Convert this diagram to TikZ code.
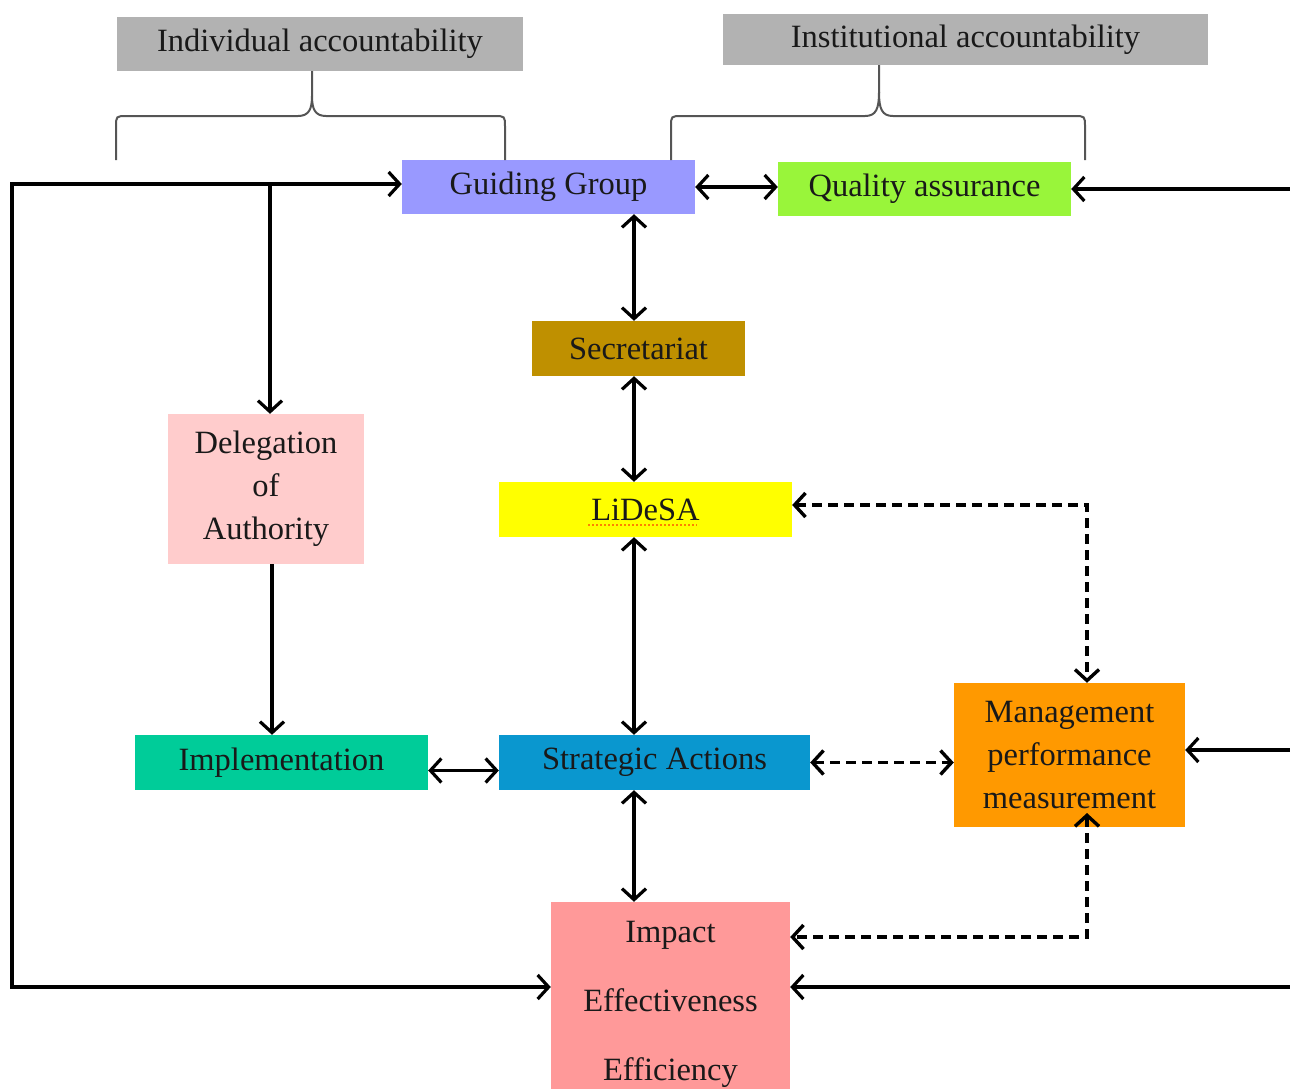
\documentclass[tikz,border=0pt]{standalone}
\usepackage{fontspec}
\setmainfont{Liberation Serif}
\usetikzlibrary{arrows.meta}
\definecolor{cgray}{HTML}{B2B2B2}
\definecolor{cgg}{HTML}{9999FF}
\definecolor{cqa}{HTML}{99F53A}
\definecolor{csec}{HTML}{BF9000}
\definecolor{clid}{HTML}{FFFF00}
\definecolor{cdel}{HTML}{FFCCCC}
\definecolor{cimp}{HTML}{00CC99}
\definecolor{csa}{HTML}{0A97CF}
\definecolor{cmpm}{HTML}{FF9900}
\definecolor{cimpact}{HTML}{FF9999}
\definecolor{cbrace}{HTML}{555555}
\tikzset{
  box/.style={inner sep=0pt, align=center, font=\fontsize{32.5}{43}\selectfont, text=black!90},
  conn/.style={line width=3.2pt, {Straight Barb[length=11pt,width=24pt]}-{Straight Barb[length=11pt,width=24pt]}},
  oneway/.style={line width=3.2pt, -{Straight Barb[length=11pt,width=24pt]}},
  dconn/.style={line width=3.4pt, dash pattern=on 10pt off 6pt, {Straight Barb[length=11pt,width=24pt]}-{Straight Barb[length=11pt,width=24pt]}},
  bracestyle/.style={draw=cbrace, line width=2pt}
}
\begin{document}
\begin{tikzpicture}[x=1pt,y=-1pt]
\useasboundingbox (0,0) rectangle (1290,1088);
\clip (0,0) rectangle (1290,1088);
% boxes
\node[box, fill=cgray, minimum width=406pt, minimum height=54pt] (indiv) at (320,44) {Individual accountability};
\node[box, fill=cgray, minimum width=485pt, minimum height=51pt] (inst) at (965.5,39.5) {Institutional accountability};
\node[box, fill=cgg, minimum width=293pt, minimum height=54pt] (gg) at (548.5,187) {Guiding Group};
\node[box, fill=cqa, minimum width=293pt, minimum height=54pt] (qa) at (924.5,189) {Quality assurance};
\node[box, fill=csec, minimum width=213pt, minimum height=55pt] (sec) at (638.5,348.5) {Secretariat};
\node[box, fill=clid, minimum width=293pt, minimum height=55pt] (lid) at (645.5,509.5) {LiDeSA};
\node[box, fill=cdel, minimum width=196pt, minimum height=150pt] (del) at (266,489) {Delegation\\of\\Authority};
\node[box, fill=cimp, minimum width=293pt, minimum height=55pt] (imp) at (281.5,762.5) {Implementation};
\node[box, fill=csa, minimum width=311pt, minimum height=55pt] (sa) at (654.5,762.5) {Strategic Actions};
\node[box, fill=cmpm, minimum width=231pt, minimum height=144pt] (mpm) at (1069.5,755) {Management\\performance\\measurement};
\node[box, fill=cimpact, minimum width=239pt, minimum height=204pt, font=\fontsize{32.5}{69}\selectfont] (impact) at (670.5,1004) {Impact\\Effectiveness\\Efficiency};
% spell-check mark under LiDeSA
\draw[orange, line width=1.8pt, dash pattern=on 2pt off 2pt] (588,525) -- (697,525);
% braces
\draw[bracestyle] (116,160) -- (116,127) .. controls (116,116) .. (127,116) -- (298,116)
  .. controls (309,116) and (312,109) .. (312,96) -- (indiv.south -| 312,0);
\draw[bracestyle] (312,96) .. controls (312,109) and (315,116) .. (326,116) -- (494,116)
  .. controls (505,116) .. (505,127) -- (505,160);
\draw[bracestyle] (671,160) -- (671,127) .. controls (671,116) .. (682,116) -- (865,116)
  .. controls (876,116) and (879,109) .. (879,92) -- (inst.south -| 879,0);
\draw[bracestyle] (879,92) .. controls (879,109) and (882,116) .. (893,116) -- (1074,116)
  .. controls (1085,116) .. (1085,127) -- (1085,160);
% coordinates
\coordinate (lb) at (12,987);
\coordinate (cx) at (634,0);
\coordinate (re) at (1290,0);
\coordinate (dx) at (1087,0);
\coordinate (r2) at (1290,750);
\coordinate (r3) at (1290,987);
\coordinate (d1) at (0,505);
\coordinate (d2) at (1087,937);
\coordinate (mtip) at (1087,813);
% left loop
\draw[conn] (gg.west |- 0,184) -| (lb) -- (impact.west |- lb);
\coordinate (br) at (270,184);
\draw[oneway] (br) -- (br |- del.north);
\draw[oneway] (del.south -| 272,0) -- (imp.north -| 272,0);
% top
\draw[conn] (gg.east) -- (gg.east -| qa.west);
\draw[oneway] (qa.east -| re) -- (qa.east);
\draw[oneway] (r2) -- (mpm.east |- r2);
\draw[oneway] (r3) -- (impact.east |- r3);
% central column
\draw[conn] (gg.south -| cx) -- (sec.north -| cx);
\draw[conn] (sec.south -| cx) -- (lid.north -| cx);
\draw[conn] (lid.south -| cx) -- (sa.north -| cx);
\draw[conn] (sa.south -| cx) -- (impact.north -| cx);
% implementation link
\draw[conn] ([yshift=-8pt]imp.east) -- ([yshift=-8pt]imp.east -| sa.west);
% dashed
\draw[dconn] (sa.east) -- (sa.east -| mpm.west);
\draw[dconn] (lid.east |- d1) -| (mpm.north -| dx);
\draw[dconn] (mtip) |- (impact.east |- d2);
\end{tikzpicture}
\end{document}
